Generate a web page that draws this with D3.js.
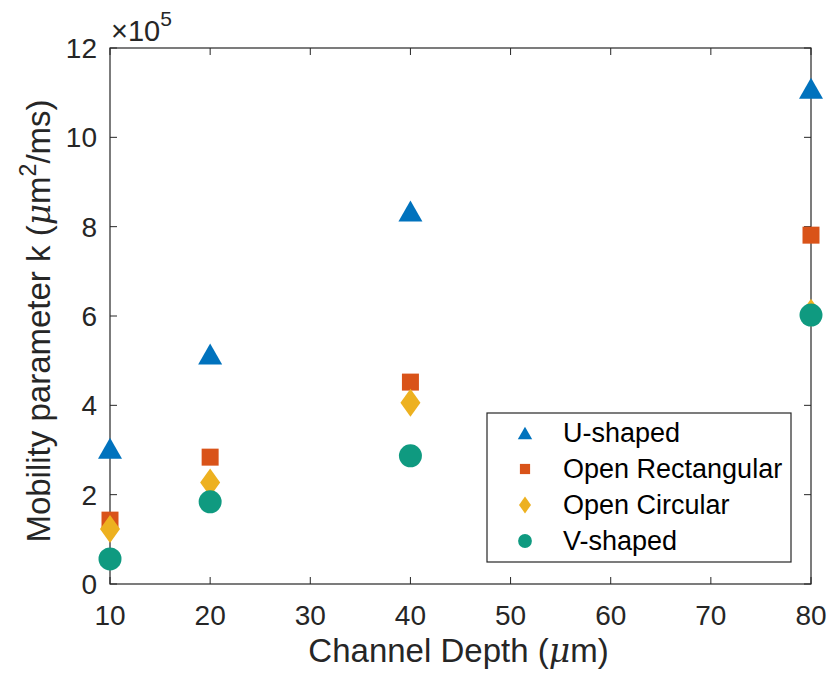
<!DOCTYPE html>
<html>
<head>
<meta charset="utf-8">
<script src="https://cdn.jsdelivr.net/npm/d3@7"></script>
<style>
  body { margin: 0; background: #fff; }
  text { font-family: "Liberation Sans", Arial, Helvetica, sans-serif; }
</style>
</head>
<body>
<div id="chart"></div>
<script>
// channel depths (um)
const depths = [10, 20, 40, 80];

// mobility parameter k, in units of 1e5 um^2/ms
const uShaped = [3.04, 5.15, 8.35, 11.1];
const openRect = [1.43, 2.84, 4.52, 7.81];
const openCirc = [1.23, 2.27, 4.06, 6.07];
const vShaped = [0.56, 1.84, 2.87, 6.02];

const xTicks = [10, 20, 30, 40, 50, 60, 70, 80];
const yTicks = [0, 2, 4, 6, 8, 10, 12];

const seriesNames = ["U-shaped", "Open Rectangular", "Open Circular", "V-shaped"];
const seriesColors = ["#0072bd", "#d95319", "#edb120", "#0f9a80"];
const seriesShapes = ["triangle", "square", "diamond", "circle"];

const series = [uShaped, openRect, openCirc, vShaped].map((vals, i) => ({
    name: seriesNames[i],
    color: seriesColors[i],
    shape: seriesShapes[i],
    points: vals.map((v, j) => ({ x: depths[j], y: v }))
}));

const width = 832,
    height = 677;
const margin = { left: 110, right: 21, top: 48, bottom: 93 };
const axisColor = "#262626";

const svg = d3.select("#chart").append("svg")
    .attr("width", width)
    .attr("height", height);

const x = d3.scaleLinear()
    .domain([10, 80])
    .range([margin.left, width - margin.right]);

const y = d3.scaleLinear()
    .domain([0, 12])
    .range([height - margin.bottom, margin.top]);

// marker path around (0,0); s = scale factor (1 for plot, smaller for legend)
function markerPath(shape, s) {
    const p = d3.path();
    if (shape === "triangle") {
        const w = 12 * s, h = 10.5 * s;
        p.moveTo(0, -h); p.lineTo(w, h); p.lineTo(-w, h); p.closePath();
    } else if (shape === "square") {
        const a = 8.5 * s;
        p.rect(-a, -a, 2 * a, 2 * a);
    } else if (shape === "diamond") {
        const w = 10 * s, h = 14 * s;
        p.moveTo(0, -h); p.lineTo(w, 0); p.lineTo(0, h); p.lineTo(-w, 0); p.closePath();
    } else {
        p.arc(0, 0, 11.5 * s, 0, 2 * Math.PI);
    }
    return p.toString();
}

// axes box
const x0 = x.range()[0], x1 = x.range()[1];
const y0 = y.range()[0], y1 = y.range()[1];

const tickLen = 7;
const grid = svg.append("g").attr("stroke", axisColor).attr("stroke-width", 1);

// x ticks (bottom and top, inward)
grid.selectAll(".xt").data(xTicks).enter().append("line")
    .attr("x1", d => x(d)).attr("x2", d => x(d))
    .attr("y1", y0).attr("y2", y0 - tickLen);
grid.selectAll(".xt2").data(xTicks).enter().append("line")
    .attr("x1", d => x(d)).attr("x2", d => x(d))
    .attr("y1", y1).attr("y2", y1 + tickLen);
// y ticks (left and right, inward)
grid.selectAll(".yt").data(yTicks).enter().append("line")
    .attr("x1", x0).attr("x2", x0 + tickLen)
    .attr("y1", d => y(d)).attr("y2", d => y(d));
grid.selectAll(".yt2").data(yTicks).enter().append("line")
    .attr("x1", x1).attr("x2", x1 - tickLen)
    .attr("y1", d => y(d)).attr("y2", d => y(d));

svg.append("rect")
    .attr("x", x0).attr("y", y1)
    .attr("width", x1 - x0).attr("height", y0 - y1)
    .attr("fill", "none").attr("stroke", axisColor).attr("stroke-width", 1.2);

// tick labels
svg.append("g").selectAll("text").data(xTicks).enter().append("text")
    .attr("x", d => x(d)).attr("y", y0 + 41)
    .attr("text-anchor", "middle")
    .attr("font-size", 28).attr("fill", axisColor)
    .text(d => d);

svg.append("g").selectAll("text").data(yTicks).enter().append("text")
    .attr("x", x0 - 13).attr("y", d => y(d) + 10)
    .attr("text-anchor", "end")
    .attr("font-size", 28).attr("fill", axisColor)
    .text(d => d);

// exponent label
const expo = svg.append("text")
    .attr("x", x0 + 1).attr("y", y1 - 7)
    .attr("font-size", 29).attr("fill", axisColor);
expo.append("tspan").text("\u00d710");
expo.append("tspan").attr("dy", -15).attr("font-size", 21).text("5");

// axis labels
const xl = svg.append("text")
    .attr("x", (x0 + x1) / 2 - 2).attr("y", 662)
    .attr("text-anchor", "middle")
    .attr("font-size", 33).attr("fill", axisColor);
xl.append("tspan").text("Channel Depth (");
xl.append("tspan").attr("font-family", "'DejaVu Serif', 'Liberation Serif', serif").attr("font-style", "italic").text("\u03bc");
xl.append("tspan").text("m)");

const yl = svg.append("text")
    .attr("transform", "translate(50," + ((y0 + y1) / 2 + 5) + ") rotate(-90)")
    .attr("text-anchor", "middle")
    .attr("font-size", 33).attr("fill", axisColor);
yl.append("tspan").text("Mobility parameter k (");
yl.append("tspan").attr("font-family", "'DejaVu Serif', 'Liberation Serif', serif").attr("font-style", "italic").text("\u03bc");
yl.append("tspan").text("m");
yl.append("tspan").attr("dy", -14).attr("font-size", 23).text("2");
yl.append("tspan").attr("dy", 14).text("/ms)");

// data markers
series.forEach(s => {
    svg.append("g").selectAll("path").data(s.points).enter().append("path")
        .attr("transform", d => "translate(" + x(d.x) + "," + y(d.y) + ")")
        .attr("d", markerPath(s.shape, 1))
        .attr("fill", s.color);
});

// legend
const lg = svg.append("g");
lg.append("rect")
    .attr("x", 487).attr("y", 413)
    .attr("width", 304).attr("height", 149)
    .attr("fill", "#fff").attr("stroke", axisColor).attr("stroke-width", 1.2);

const rows = lg.selectAll(".row").data(series).enter().append("g")
    .attr("transform", (d, i) => "translate(0," + (433 + i * 36) + ")");
rows.append("path")
    .attr("transform", "translate(525,0)")
    .attr("d", d => markerPath(d.shape, 0.6))
    .attr("fill", d => d.color);
rows.append("text")
    .attr("x", 563).attr("y", 9)
    .attr("font-size", 27).attr("fill", "#000")
    .text(d => d.name);
</script>
</body>
</html>
